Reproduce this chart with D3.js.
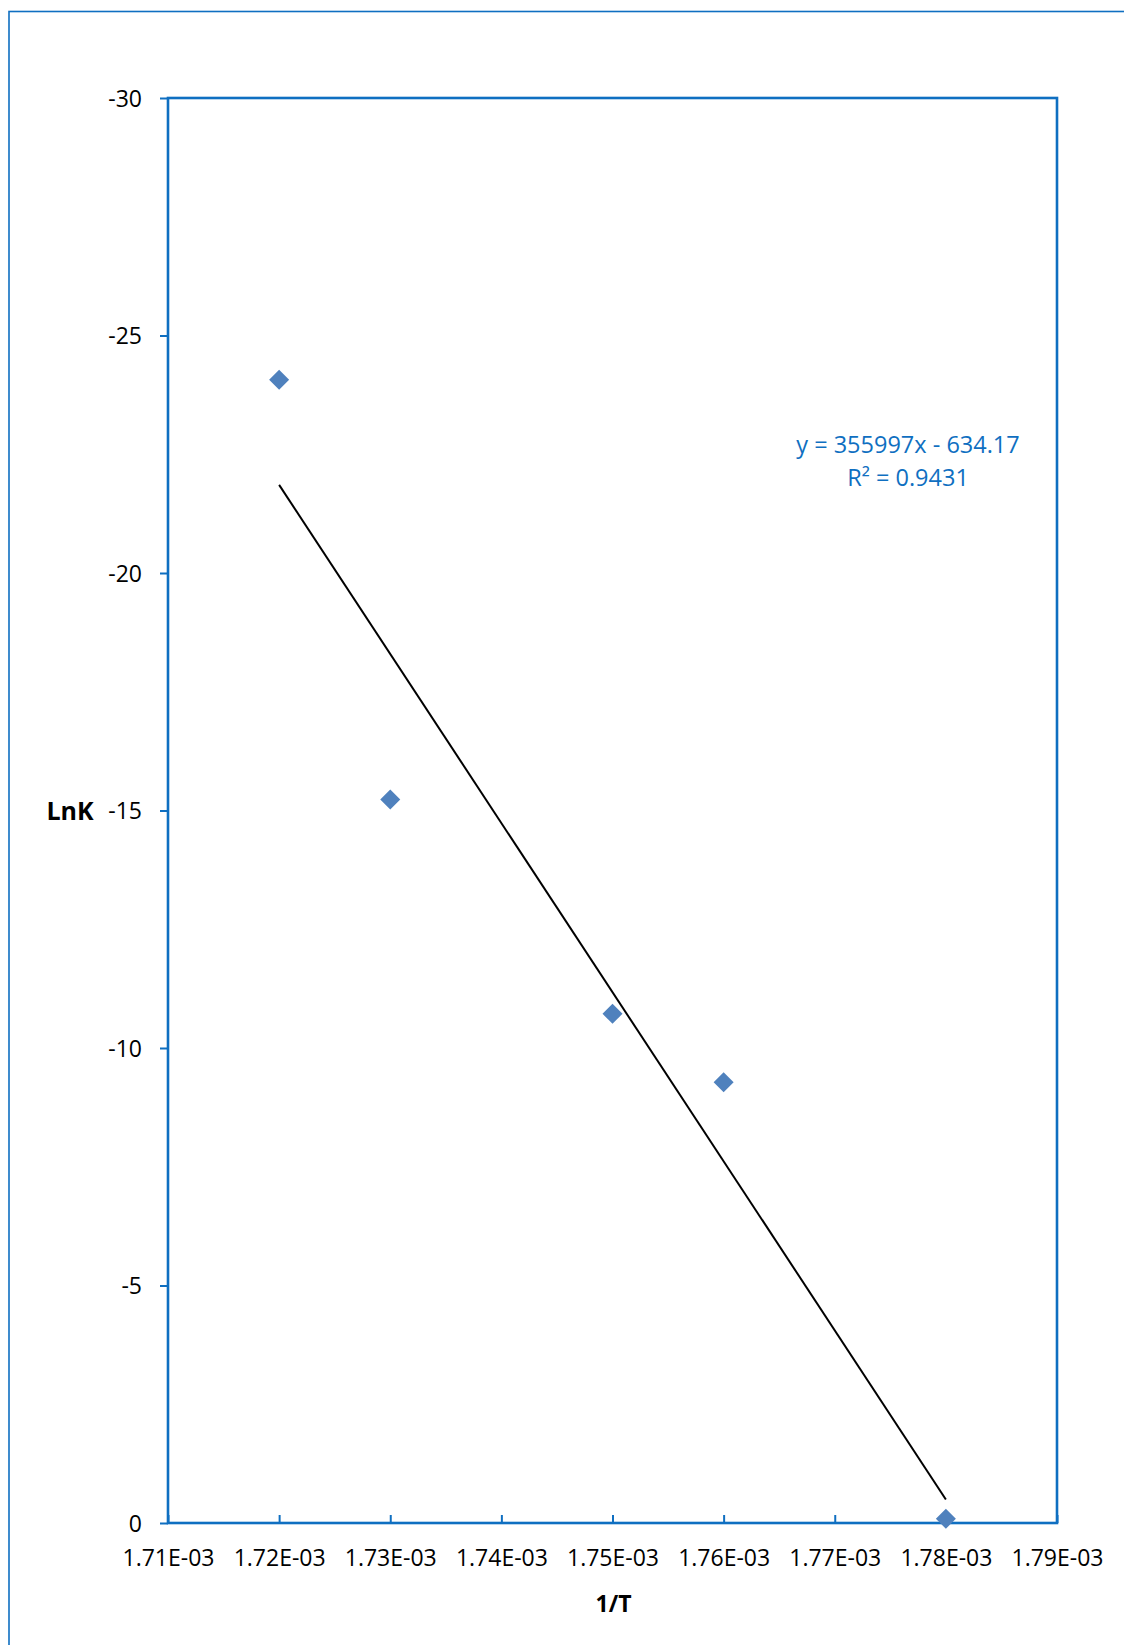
<!DOCTYPE html>
<html>
<head>
<meta charset="utf-8">
<script src="https://cdn.jsdelivr.net/npm/d3@7"></script>
<style>
  html, body { margin: 0; padding: 0; background: #fff; }
  svg { display: block; font-family: "Open Sans", sans-serif; }
</style>
</head>
<body>
<div id="chart"></div>
<script>
// Data
const invT = [0.00172, 0.00173, 0.00175, 0.00176, 0.00178];
const lnK = [-24.07, -15.23, -10.72, -9.28, -0.09];

const xTicks = [0.00171, 0.00172, 0.00173, 0.00174, 0.00175, 0.00176, 0.00177, 0.00178, 0.00179];
const xTickLabels = ["1.71E-03", "1.72E-03", "1.73E-03", "1.74E-03", "1.75E-03", "1.76E-03", "1.77E-03", "1.78E-03", "1.79E-03"];
const yTicks = [0, -5, -10, -15, -20, -25, -30];
const yTickLabels = ["0", "-5", "-10", "-15", "-20", "-25", "-30"];

// linear trendline as reported on the chart
const trendSlope = 355997;
const trendIntercept = -634.17;
const trendR2 = 0.9431;
const trendRange = [0.00172, 0.00178];

// Space
const W = 1124, H = 1645;
const plot = { left: 168, top: 98, right: 1057, bottom: 1523 };
const axisBlue = "#0F6FC1";

const svg = d3.select("#chart")
    .append("svg")
    .attr("width", W)
    .attr("height", H);

// outer chart area border (runs off the page on the right and bottom)
svg.append("rect")
    .attr("x", 9)
    .attr("y", 11.5)
    .attr("width", W + 20)
    .attr("height", H + 20)
    .attr("fill", "none")
    .attr("stroke", axisBlue)
    .attr("stroke-width", 1.6);

const x = d3.scaleLinear()
    .domain([xTicks[0], xTicks[xTicks.length - 1]])
    .range([plot.left, plot.right]);

const y = d3.scaleLinear()
    .domain([0, -30])
    .range([plot.bottom, plot.top]);

// Axes
const yAxis = svg.append("g")
    .attr("transform", `translate(${plot.left},0)`)
    .call(d3.axisLeft(y)
        .tickValues(yTicks)
        .tickFormat((d, i) => yTickLabels[i])
        .tickSize(8)
        .tickSizeOuter(0)
        .tickPadding(18));
yAxis.select(".domain").remove();
yAxis.selectAll("line").attr("stroke", axisBlue).attr("stroke-width", 2);
yAxis.selectAll("text")
    .attr("dy", "0.36em")
    .style("font-family", "'Open Sans', sans-serif")
    .style("font-size", "23px")
    .style("fill", "#000");

const xAxis = svg.append("g")
    .attr("transform", `translate(0,${plot.bottom})`)
    .call(d3.axisBottom(x)
        .tickValues(xTicks)
        .tickFormat((d, i) => xTickLabels[i])
        .tickSize(-8)
        .tickSizeOuter(0)
        .tickPadding(27));
xAxis.select(".domain").remove();
xAxis.selectAll("line").attr("stroke", axisBlue).attr("stroke-width", 2);
xAxis.selectAll("text")
    .style("font-family", "'Open Sans', sans-serif")
    .style("font-size", "23px")
    .style("fill", "#000");

// plot area frame
svg.append("rect")
    .attr("x", plot.left)
    .attr("y", plot.top)
    .attr("width", plot.right - plot.left)
    .attr("height", plot.bottom - plot.top)
    .attr("fill", "none")
    .attr("stroke", axisBlue)
    .attr("stroke-width", 2.6);

// Trendline
svg.append("line")
    .attr("x1", x(trendRange[0]))
    .attr("y1", y(trendSlope * trendRange[0] + trendIntercept))
    .attr("x2", x(trendRange[1]))
    .attr("y2", y(trendSlope * trendRange[1] + trendIntercept))
    .attr("stroke", "#000")
    .attr("stroke-width", 2);

// Points
const points = invT.map((v, i) => ({ x: v, y: lnK[i] }));
svg.selectAll(".pt")
    .data(points)
    .join("path")
    .attr("class", "pt")
    .attr("d", d3.symbol(d3.symbolSquare, 200))
    .attr("transform", d => `translate(${x(d.x)},${y(d.y)}) rotate(45)`)
    .attr("fill", "#4F81BD");

// Axis titles
svg.append("text")
    .attr("x", (plot.left + plot.right) / 2 + 1)
    .attr("y", 1612)
    .attr("text-anchor", "middle")
    .style("font-size", "23px")
    .style("font-weight", "bold")
    .text("1/T");

svg.append("text")
    .attr("x", 70)
    .attr("y", y(-15))
    .attr("dy", "0.36em")
    .attr("text-anchor", "middle")
    .style("font-size", "25px")
    .style("font-weight", "bold")
    .text("LnK");

// Trendline label
const eq = svg.append("text")
    .attr("text-anchor", "middle")
    .style("font-size", "23.5px")
    .style("fill", axisBlue);
eq.append("tspan")
    .attr("x", 908)
    .attr("y", 453)
    .text(`y = ${trendSlope}x - ${Math.abs(trendIntercept)}`);
eq.append("tspan")
    .attr("x", 908)
    .attr("y", 486)
    .text(`R² = ${trendR2}`);
</script>
</body>
</html>
